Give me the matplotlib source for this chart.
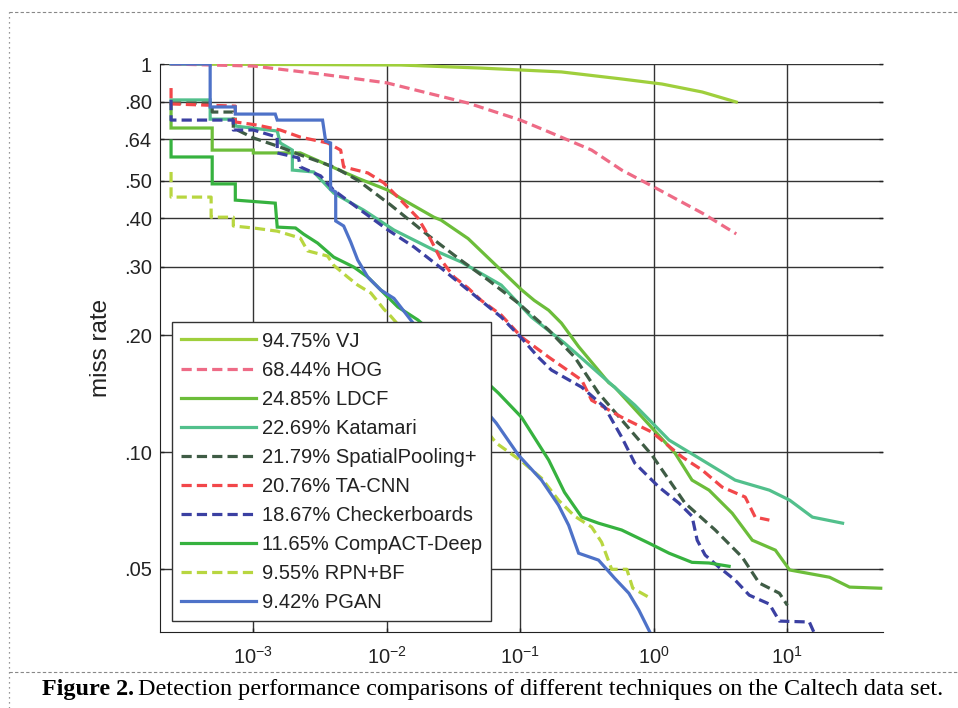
import matplotlib.pyplot as plt
from matplotlib.lines import Line2D

# fppi / miss-rate points
vj_fppi = [2.42e-4, 0.0127, 0.051, 0.203, 0.574, 1.15, 2.30, 4.14]
vj_miss = [1.0, 0.994, 0.976, 0.954, 0.915, 0.888, 0.847, 0.798]

hog_fppi = [2.42e-4, 1e-3, 3.19e-3, 0.01, 0.0406, 0.1, 0.171, 0.342, 0.574, 1.0, 2.30, 4.14]
hog_miss = [1.0, 0.988, 0.942, 0.894, 0.793, 0.717, 0.664, 0.600, 0.533, 0.482, 0.413, 0.365]

ldcf_fppi = [2.42e-4, 2.42e-4, 4.92e-4, 4.92e-4, 1e-3, 1e-3, 2.25e-3, 6.05e-3, 0.0102, 0.0127,
             0.0225, 0.0255, 0.0406, 0.0719, 0.102, 0.127, 0.163, 0.203, 0.273, 0.459,
             0.509, 0.855, 1.44, 1.93, 2.59, 3.86, 5.46, 8.13, 10.4, 20.7, 29.2, 50]
ldcf_miss = [0.79, 0.684, 0.684, 0.600, 0.600, 0.590, 0.590, 0.508, 0.473, 0.451,
             0.403, 0.396, 0.355, 0.294, 0.262, 0.246, 0.232, 0.215, 0.187, 0.151,
             0.147, 0.121, 0.0994, 0.0847, 0.0798, 0.0696, 0.0593, 0.0559, 0.0497, 0.0476, 0.0449, 0.0446]

kat_fppi = [2.42e-4, 4.75e-4, 4.75e-4, 7.33e-4, 7.33e-4, 1.51e-3, 1.59e-3, 1.96e-3, 1.96e-3, 2.83e-3,
            4.0e-3, 6.72e-3, 0.0113, 0.0225, 0.036, 0.0719, 0.121, 0.214, 0.385, 0.719,
            1.30, 2.30, 4.06, 7.33, 10.4, 15.4, 25.9]
kat_miss = [0.808, 0.808, 0.721, 0.721, 0.692, 0.672, 0.626, 0.600, 0.533, 0.527,
            0.465, 0.420, 0.3735, 0.3316, 0.309, 0.2694, 0.2228, 0.191, 0.1598, 0.1322,
            0.1074, 0.0954, 0.0847, 0.0798, 0.0752, 0.068, 0.0656]

sp_fppi = [2.42e-4, 4.92e-4, 4.92e-4, 7.08e-4, 7.08e-4, 1e-3, 1.59e-3, 2.25e-3, 4.0e-3, 6.05e-3,
           0.0107, 0.0203, 0.0342, 0.0574, 0.0966, 0.163, 0.255, 0.385, 0.574, 0.966,
           1.71, 2.88, 4.59, 6.15, 8.71, 10.0]
sp_miss = [0.793, 0.793, 0.752, 0.752, 0.684, 0.645, 0.611, 0.583, 0.543, 0.502,
           0.433, 0.3624, 0.316, 0.2776, 0.242, 0.2063, 0.1757, 0.142, 0.121, 0.0983,
           0.0739, 0.063, 0.0536, 0.046, 0.0433, 0.0403]

ta_fppi = [2.42e-4, 2.42e-4, 7.33e-4, 7.33e-4, 1.07e-3, 1.59e-3, 2.25e-3, 3.6e-3, 4.51e-3, 4.75e-3,
           7.2e-3, 9.5e-3, 0.0127, 0.0171, 0.0214, 0.0255, 0.0319, 0.0406, 0.0509, 0.0719,
           0.102, 0.163, 0.288, 0.342, 0.574, 0.966, 1.63, 2.30, 3.24, 4.83, 5.74, 7.33]
ta_miss = [0.867, 0.789, 0.779, 0.709, 0.696, 0.676, 0.648, 0.626, 0.600, 0.543,
           0.524, 0.494, 0.446, 0.401, 0.352, 0.3126, 0.2825, 0.2647, 0.246, 0.2255,
           0.1979, 0.1757, 0.1533, 0.136, 0.123, 0.1126, 0.0971, 0.0899, 0.0813, 0.0766, 0.068, 0.0668]

cb_fppi = [2.42e-4, 2.42e-4, 7.08e-4, 7.08e-4, 1e-3, 1.51e-3, 1.51e-3, 2.18e-3, 2.25e-3, 3.19e-3,
           4.0e-3, 6.38e-3, 0.0102, 0.016, 0.0255, 0.0406, 0.0719, 0.102, 0.136, 0.171,
           0.288, 0.428, 0.574, 0.719, 1.09, 1.54, 1.93, 2.11, 2.42, 3.08,
           4.06, 5.18, 7.33, 8.71, 14.6, 16.0]
cb_miss = [0.808, 0.717, 0.717, 0.676, 0.676, 0.648, 0.590, 0.573, 0.543, 0.515,
           0.473, 0.420, 0.3735, 0.3376, 0.298, 0.2615, 0.2228, 0.1967, 0.1757, 0.1627,
           0.147, 0.1306, 0.1093, 0.0937, 0.0813, 0.0739, 0.0684, 0.0593, 0.0543, 0.0505,
           0.0468, 0.0428, 0.0406, 0.0367, 0.0365, 0.034]

cad_fppi = [2.42e-4, 2.42e-4, 4.92e-4, 4.92e-4, 7.33e-4, 7.33e-4, 1.46e-3, 1.51e-3, 2.07e-3, 2.38e-3,
            3.03e-3, 4.0e-3, 5.65e-3, 7.2e-3, 9.02e-3, 0.0121, 0.0171, 0.0255, 0.036, 0.0509,
            0.0684, 0.102, 0.163, 0.214, 0.288, 0.385, 0.574, 0.916, 1.30, 1.93, 2.59, 3.66]
cad_miss = [0.633, 0.576, 0.576, 0.491, 0.491, 0.446, 0.438, 0.380, 0.378, 0.3645,
            0.3456, 0.318, 0.2998, 0.2825, 0.2615, 0.2365, 0.219, 0.1944, 0.1747, 0.156,
            0.142, 0.123, 0.0954, 0.0788, 0.068, 0.0656, 0.063, 0.0583, 0.0549, 0.052, 0.0518, 0.0508]

rpn_fppi = [2.42e-4, 2.42e-4, 4.83e-4, 4.83e-4, 7.08e-4, 7.08e-4, 1e-3, 1.51e-3, 2.25e-3, 2.55e-3,
            3.6e-3, 4.0e-3, 5.09e-3, 6.05e-3, 7.59e-3, 9.5e-3, 0.0107, 0.0278, 0.066, 0.102,
            0.144, 0.193, 0.255, 0.342, 0.406, 0.483, 0.627, 0.695, 0.948]
rpn_miss = [0.527, 0.454, 0.454, 0.403, 0.403, 0.3825, 0.378, 0.371, 0.356, 0.330,
            0.320, 0.303, 0.2825, 0.2694, 0.257, 0.2336, 0.224, 0.1533, 0.1055, 0.0948,
            0.0857, 0.0752, 0.0684, 0.0641, 0.0586, 0.0499, 0.0499, 0.0446, 0.042]

pgan_fppi = [2.42e-4, 4.75e-4, 4.75e-4, 7.33e-4, 7.33e-4, 1.46e-3, 1.51e-3, 3.3e-3, 3.48e-3, 3.79e-3,
             3.79e-3, 4.14e-3, 4.14e-3, 4.75e-3, 5.36e-3, 6.05e-3, 7.2e-3, 9.02e-3, 0.0113, 0.0127,
             0.0151, 0.0303, 0.066, 0.0966, 0.144, 0.193, 0.23, 0.273, 0.385, 0.509,
             0.649, 0.771, 0.948]
pgan_miss = [1.0, 1.0, 0.775, 0.775, 0.743, 0.743, 0.717, 0.717, 0.633, 0.626,
             0.476, 0.468, 0.394, 0.3825, 0.348, 0.3126, 0.2825, 0.2615, 0.249, 0.2365,
             0.219, 0.1627, 0.1188, 0.0983, 0.0847, 0.073, 0.0648, 0.0549, 0.0527, 0.0473,
             0.0433, 0.0392, 0.034]

labels = ['94.75% VJ', '68.44% HOG', '24.85% LDCF', '22.69% Katamari', '21.79% SpatialPooling+',
          '20.76% TA-CNN', '18.67% Checkerboards', '11.65% CompACT-Deep', '9.55% RPN+BF', '9.42% PGAN']

ytick_vals = [0.05, 0.1, 0.2, 0.3, 0.4, 0.5, 0.64, 0.8, 1]
ytick_text = ['.05', '.10', '.20', '.30', '.40', '.50', '.64', '.80', '1']
xtick_vals = [1e-3, 1e-2, 1e-1, 1e0, 1e1]
xtick_text = ['$10^{-3}$', '$10^{-2}$', '$10^{-1}$', '$10^{0}$', '$10^{1}$']

curves = [(vj_fppi, vj_miss), (hog_fppi, hog_miss), (ldcf_fppi, ldcf_miss), (kat_fppi, kat_miss),
          (sp_fppi, sp_miss), (ta_fppi, ta_miss), (cb_fppi, cb_miss), (cad_fppi, cad_miss),
          (rpn_fppi, rpn_miss), (pgan_fppi, pgan_miss)]
colors = ['#9fcf3c', '#ee6b86', '#6cbd3a', '#52c08c', '#3f5c45',
          '#f2474a', '#3b40a2', '#36b23f', '#b8d640', '#4e72c8']
dashed = [False, True, False, False, True, True, True, False, True, False]

plt.rcParams['font.family'] = ['Liberation Sans', 'DejaVu Sans']
plt.rcParams['mathtext.fontset'] = 'custom'
plt.rcParams['mathtext.rm'] = 'Liberation Sans'
plt.rcParams['mathtext.it'] = 'Liberation Sans'
plt.rcParams['mathtext.default'] = 'rm'

fig = plt.figure(figsize=(9.58, 7.08), dpi=100)
ax = fig.add_axes([160 / 958, 1 - 632 / 708, 723 / 958, 568 / 708])

for (fx, my), c, d, lab in zip(curves, colors, dashed, labels):
    ls = (0, (3.2, 1.6)) if d else '-'
    ax.plot(fx, my, color=c, lw=2.3, ls=ls, label=lab, solid_joinstyle='miter')

ax.set_xscale('log')
ax.set_yscale('log')
ax.set_xlim(2e-4, 52)
ax.set_ylim(0.0344, 1)
ax.set_yticks(ytick_vals)
ax.set_yticklabels(ytick_text, fontsize=14.5, color='#222222')
ax.set_xticks(xtick_vals)
ax.set_xticklabels(xtick_text, fontsize=14.5, color='#222222')
ax.minorticks_off()
ax.tick_params(axis='both', direction='in', length=3, width=1, colors='#222222',
               right=True, top=False)
ax.tick_params(axis='x', pad=10)
ax.tick_params(axis='y', pad=6)
ax.grid(True, color='#333333', lw=1.0)
ax.spines['top'].set_visible(False)
ax.spines['right'].set_visible(False)
for s in ['left', 'bottom']:
    ax.spines[s].set_color('#222222')
ax.set_ylabel('miss rate', fontsize=17.5, color='#222222', labelpad=8)

leg = ax.legend(loc='lower left', bbox_to_anchor=(0.0166, 0.019), borderaxespad=0,
                fontsize=14.5, handlelength=3.7, handletextpad=0.3, labelspacing=0.5,
                fancybox=False, framealpha=1, edgecolor='#333333', borderpad=0.45)
leg.get_frame().set_linewidth(1.0)
for t in leg.get_texts():
    t.set_color('#222222')

# page decorations: dashed frame and caption
fig.add_artist(Line2D([9 / 958, 1], [1 - 12 / 708, 1 - 12 / 708], color='#888888', lw=0.8, ls=(0, (3, 2))))
fig.add_artist(Line2D([9 / 958, 9 / 958], [0, 1 - 12 / 708], color='#777777', lw=0.9, ls=(0, (1, 3))))
fig.add_artist(Line2D([9 / 958, 1], [1 - 672 / 708, 1 - 672 / 708], color='#888888', lw=0.8, ls=(0, (3, 2))))

cap_y = 1 - 690 / 708
t1 = fig.text(42 / 958, cap_y, 'Figure 2.', fontsize=17.4, fontweight='bold',
              family='Liberation Serif', va='center', ha='left')
fig.canvas.draw()
bb = t1.get_window_extent()
fig.text(bb.x1 / fig.bbox.width + 0.004, cap_y,
         'Detection performance comparisons of different techniques on the Caltech data set.',
         fontsize=17.4, family='Liberation Serif', va='center', ha='left')

fig.savefig('out.png', dpi=100)
